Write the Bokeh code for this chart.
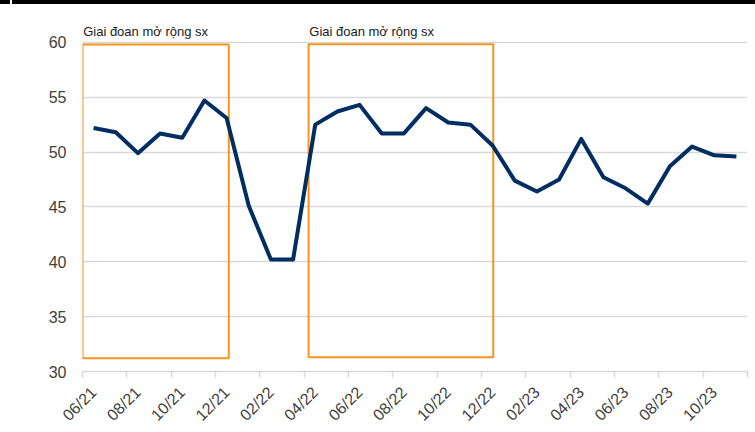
import math
from bokeh.plotting import figure
from bokeh.models import Range1d, FixedTicker, Label, Div
from bokeh.layouts import column
from bokeh.embed import file_html
from bokeh.resources import INLINE

# ---- data ----
months = ["06/21", "07/21", "08/21", "09/21", "10/21", "11/21", "12/21", "01/22",
          "02/22", "03/22", "04/22", "05/22", "06/22", "07/22", "08/22", "09/22",
          "10/22", "11/22", "12/22", "01/23", "02/23", "03/23", "04/23", "05/23",
          "06/23", "07/23", "08/23", "09/23", "10/23", "11/23"]
pmi = [52.2, 51.8, 49.9, 51.7, 51.3, 54.7, 53.1, 45.1, 40.2, 40.2,
       52.5, 53.7, 54.3, 51.7, 51.7, 54.0, 52.7, 52.5, 50.6, 47.4,
       46.4, 47.5, 51.2, 47.7, 46.7, 45.3, 48.7, 50.5, 49.7, 49.6]
y_ticks = [30, 35, 40, 45, 50, 55, 60]

# highlighted phases (in month-index units)
band_labels = ["Giai đoan mở rộng sx", "Giai đoan mở rộng sx"]
band_start = [0.0, 10.2]
band_end = [6.6, 18.53]
band_bottom = [31.2, 31.3]
band_top = [59.8, 59.83]

FONT = "Liberation Sans"

x = [i + 0.5 for i in range(len(months))]
label_pos = x[::2]
label_txt = months[::2]

# top black rule
bar = Div(width=755, height=4, text="",
          styles={"margin": "0", "padding": "0",
                  "background": "linear-gradient(to right, #000 0px, #000 10px, "
                                "#fff 10px, #fff 12px, #000 12px, #000 100%)"})

p = figure(width=755, height=428, output_backend="svg", toolbar_location=None,
           x_range=Range1d(0, len(months)), y_range=Range1d(30, 63.45),
           min_border_left=82, min_border_right=8, min_border_top=0,
           min_border_bottom=54)
p.outline_line_color = None
p.background_fill_color = "white"
p.border_fill_color = "white"

# grid
p.xgrid.visible = False
p.ygrid.grid_line_color = "#d9d9d9"
p.ygrid.grid_line_width = 1.5

# y axis
p.yaxis.ticker = FixedTicker(ticks=y_ticks)
p.yaxis.axis_line_color = None
p.yaxis.major_tick_line_color = None
p.yaxis.minor_tick_line_color = None
p.yaxis.major_tick_out = 0
p.yaxis.major_label_standoff = 16
p.yaxis.major_label_text_font = FONT
p.yaxis.major_label_text_font_size = "16px"
p.yaxis.major_label_text_color = "#404040"

# x axis
p.xaxis.ticker = FixedTicker(ticks=label_pos, minor_ticks=list(range(0, len(months) + 1, 2)))
p.xaxis.major_label_overrides = {pos: t for pos, t in zip(label_pos, label_txt)}
p.xaxis.axis_line_color = "#d9d9d9"
p.xaxis.axis_line_width = 1.5
p.xaxis.major_tick_line_color = None
p.xaxis.major_tick_out = 0
p.xaxis.major_tick_in = 0
p.xaxis.minor_tick_line_color = "#d9d9d9"
p.xaxis.minor_tick_line_width = 1.5
p.xaxis.minor_tick_out = 6
p.xaxis.minor_tick_in = 0
p.xaxis.major_label_orientation = math.pi / 4
p.xaxis.major_label_standoff = 12
p.xaxis.major_label_text_font = FONT
p.xaxis.major_label_text_font_size = "16px"
p.xaxis.major_label_text_color = "#404040"

# phase boxes
p.quad(left=band_start, right=band_end, bottom=band_bottom, top=band_top,
       fill_color=None, line_color="#F7941D", line_width=2)
for lbl, xs in zip(band_labels, band_start):
    p.add_layout(Label(x=xs + 0.03, y=61.0, text=lbl, text_font=FONT,
                       text_font_size="13px", text_color="#1a1a1a",
                       text_baseline="alphabetic", text_align="left"))

# PMI line
p.line(x, pmi, line_color="#002D62", line_width=4, line_join="round")

layout = column(bar, p, spacing=0)
open("out.html", "w").write(file_html(layout, INLINE))
